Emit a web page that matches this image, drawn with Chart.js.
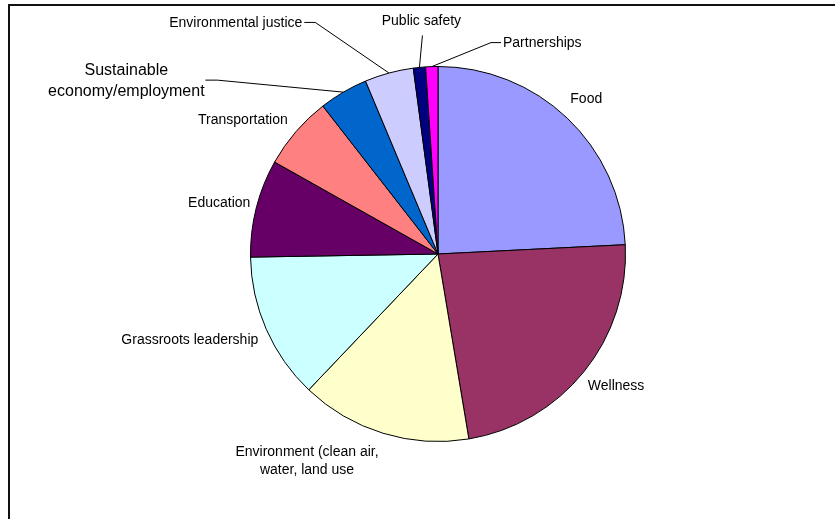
<!DOCTYPE html>
<html>
<head>
<meta charset="utf-8">
<script src="https://cdn.jsdelivr.net/npm/chart.js@4.4.1/dist/chart.umd.min.js"></script>
<style>
  html, body { margin: 0; padding: 0; background: #fff; overflow: hidden; }
  #wrap { position: relative; width: 835px; height: 519px; overflow: hidden; }
  #frame { position: absolute; left: 8px; top: 4px; width: 900px; height: 600px; border: 2px solid #111; box-sizing: border-box; pointer-events: none; }
  canvas { position: absolute; left: 0; top: 0; }
</style>
</head>
<body>
<div id="wrap">
  <canvas id="pie" width="835" height="519"></canvas>
  <div id="frame"></div>
</div>
<script>
"use strict";

const categories = [
  "Food",
  "Wellness",
  "Environment (clean air, water, land use",
  "Grassroots leadership",
  "Education",
  "Transportation",
  "Sustainable economy/employment",
  "Environmental justice",
  "Public safety",
  "Partnerships",
];
const counts = [23, 22, 14, 12, 8, 6, 4, 4, 1, 1];
const sliceColors = [
  "#9999FF", "#993366", "#FFFFCC", "#CCFFFF", "#660066",
  "#FF8080", "#0066CC", "#CCCCFF", "#000080", "#FF00FF",
];

// label placement relative to the outer point of each slice's mid-angle
const labelLayout = [
  { lines: ["Food"], dx: 19, dy: -19, align: "center" },
  { lines: ["Wellness"], dx: 32, dy: 15, align: "center" },
  { lines: ["Environment (clean air,", "water, land use"], dx: -76, dy: 19, align: "center", lh: 18 },
  { lines: ["Grassroots leadership"], dx: -8, dy: 11, align: "right" },
  { lines: ["Education"], dx: -37, dy: -5, align: "center" },
  { lines: ["Transportation"], dx: -53, dy: -11, align: "center" },
  { lines: ["Sustainable", "economy/employment"], dx: -217, dy: -22, align: "center", lh: 21, size: 16,
    leader: [[-138, -12], [-126, -12]] },
  { lines: ["Environmental justice"], dx: -86.7, dy: -50, align: "right",
    leader: [[-84.7, -50.6], [-73.7, -50.6]] },
  { lines: ["Public safety"], dx: 2, dy: -46, align: "center",
    leader: [[3, -32]] },
  { lines: ["Partnerships"], dx: 71.2, dy: -23.5, align: "left",
    leader: [[69.2, -24], [59.2, -24]] },
];

const outsideLabels = {
  id: "outsideLabels",
  afterDatasetsDraw(chart) {
    const ctx = chart.ctx;
    const meta = chart.getDatasetMeta(0);
    ctx.save();
    meta.data.forEach((arc, i) => {
      const p = arc.getProps(["x", "y", "startAngle", "endAngle", "outerRadius"], true);
      const mid = (p.startAngle + p.endAngle) / 2;
      const ax = p.x + Math.cos(mid) * p.outerRadius;
      const ay = p.y + Math.sin(mid) * p.outerRadius;
      const lay = labelLayout[i];

      if (lay.leader) {
        ctx.strokeStyle = "#000";
        ctx.lineWidth = 1;
        ctx.beginPath();
        lay.leader.forEach(([lx, ly], k) => {
          if (k === 0) ctx.moveTo(ax + lx, ay + ly);
          else ctx.lineTo(ax + lx, ay + ly);
        });
        ctx.lineTo(ax, ay);
        ctx.stroke();
      }

      const size = lay.size || 14;
      const lh = lay.lh || 17;
      ctx.font = size + "px 'Liberation Sans', Arial, sans-serif";
      ctx.fillStyle = "#000";
      ctx.textAlign = lay.align;
      ctx.textBaseline = "middle";
      const tx = ax + lay.dx;
      const ty0 = ay + lay.dy;
      lay.lines.forEach((line, k) => ctx.fillText(line, tx, ty0 + k * lh));
    });
    ctx.restore();
  },
};

new Chart(document.getElementById("pie"), {
  type: "pie",
  data: {
    labels: categories,
    datasets: [{
      data: counts,
      backgroundColor: sliceColors,
      borderColor: "#000",
      borderWidth: 1,
    }],
  },
  options: {
    responsive: false,
    animation: false,
    devicePixelRatio: 1,
    layout: { padding: { left: 250, right: 209, top: 66, bottom: 77 } },
    plugins: { legend: { display: false }, tooltip: { enabled: false } },
  },
  plugins: [outsideLabels],
});
</script>
</body>
</html>
